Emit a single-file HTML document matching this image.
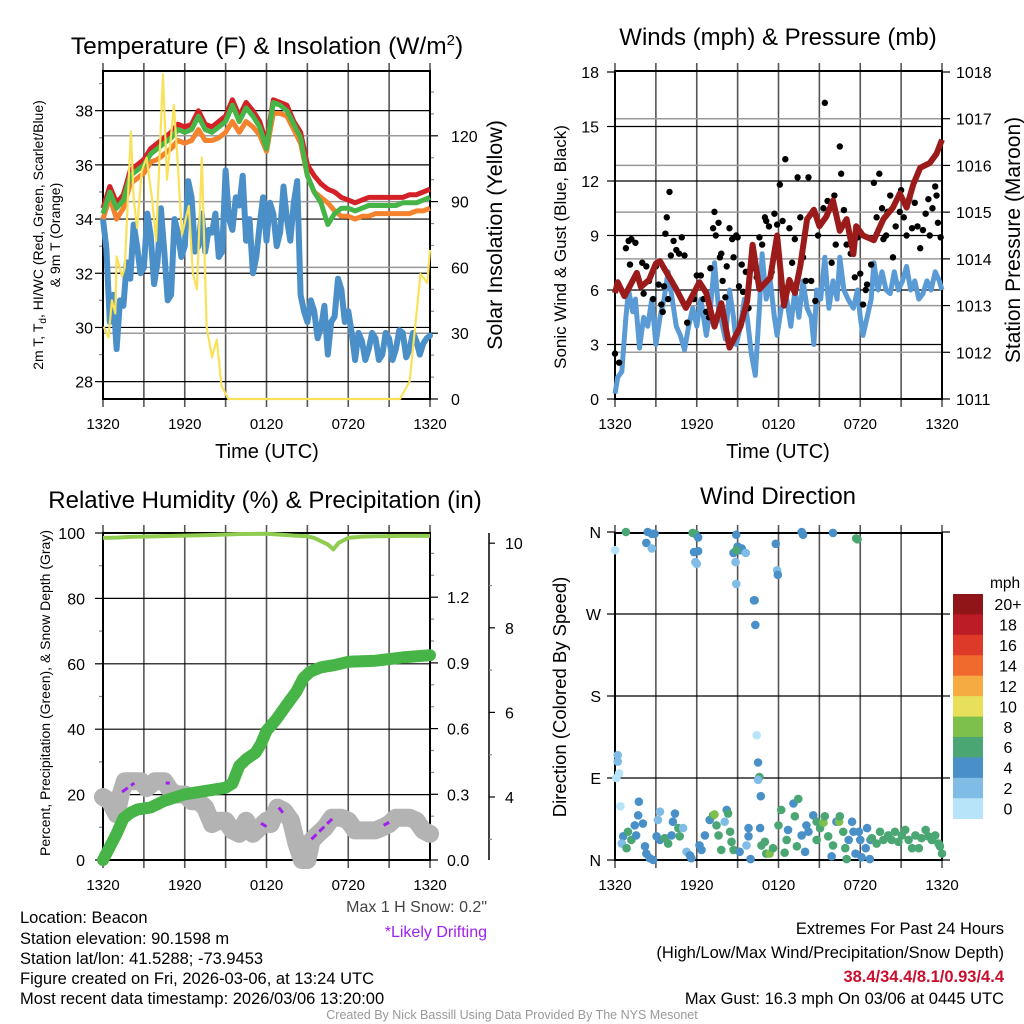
<!DOCTYPE html>
<html><head><meta charset="utf-8"><title>Beacon Mesonet Meteogram</title>
<style>
html,body{margin:0;padding:0;background:#fff;}
svg{display:block;font-family:"Liberation Sans",Arial,sans-serif;}
</style></head>
<body>
<svg id="chart" width="1024" height="1024" viewBox="0 0 1024 1024" xmlns="http://www.w3.org/2000/svg">
<rect width="1024" height="1024" fill="#fff"/>
<g id="layer"></g>
<!-- titles -->
<text x="267" y="54" font-size="24.5" text-anchor="middle">Temperature (F) &amp; Insolation (W/m<tspan dy="-9" font-size="15">2</tspan><tspan dy="9">)</tspan></text>
<text x="778" y="45" font-size="24" text-anchor="middle">Winds (mph) &amp; Pressure (mb)</text>
<text x="265" y="508" font-size="24" text-anchor="middle">Relative Humidity (%) &amp; Precipitation (in)</text>
<text x="778" y="504" font-size="24" text-anchor="middle">Wind Direction</text>
<!-- axis titles -->
<text transform="translate(43,235) rotate(-90)" font-size="14" text-anchor="middle">2m T, T<tspan dy="3" font-size="10">d</tspan><tspan dy="-3">, HI/WC (Red, Green, Scarlet/Blue)</tspan></text>
<text transform="translate(60,235) rotate(-90)" font-size="14" text-anchor="middle">&amp; 9m T (Orange)</text>
<text transform="translate(502,235) rotate(-90)" font-size="21.5" text-anchor="middle">Solar Insolation (Yellow)</text>
<text transform="translate(566,247) rotate(-90)" font-size="17" text-anchor="middle">Sonic Wind &amp; Gust (Blue, Black)</text>
<text transform="translate(1020,240) rotate(-90)" font-size="21" text-anchor="middle">Station Pressure (Maroon)</text>
<text transform="translate(50,693) rotate(-90)" font-size="14" text-anchor="middle">Percent, Precipitation (Green), &amp; Snow Depth (Gray)</text>
<text transform="translate(566,697) rotate(-90)" font-size="18.5" text-anchor="middle">Direction (Colored By Speed)</text>
<text x="267" y="458" font-size="20" text-anchor="middle">Time (UTC)</text>
<text x="778" y="458" font-size="20" text-anchor="middle">Time (UTC)</text>
<!-- footer text -->
<g font-size="16.5">
<text x="20" y="923">Location: Beacon</text>
<text x="20" y="944">Station elevation: 90.1598 m</text>
<text x="20" y="964">Station lat/lon: 41.5288; -73.9453</text>
<text x="20" y="984">Figure created on Fri, 2026-03-06, at 13:24 UTC</text>
<text x="20" y="1004">Most recent data timestamp: 2026/03/06 13:20:00</text>
</g>
<text x="487" y="912" font-size="16" fill="#444" text-anchor="end">Max 1 H Snow: 0.2"</text>
<text x="487" y="937" font-size="16" fill="#a020f0" text-anchor="end">*Likely Drifting</text>
<text x="1004" y="934" font-size="16.5" text-anchor="end">Extremes For Past 24 Hours</text>
<text x="1004" y="958" font-size="16.5" text-anchor="end">(High/Low/Max Wind/Precipitation/Snow Depth)</text>
<text x="1004" y="982" font-size="16.5" font-weight="bold" fill="#c8102e" text-anchor="end">38.4/34.4/8.1/0.93/4.4</text>
<text x="1004" y="1004" font-size="16.5" text-anchor="end">Max Gust: 16.3 mph On 03/06 at 0445 UTC</text>
<text x="512" y="1019" font-size="12.5" fill="#999" text-anchor="middle">Created By Nick Bassill Using Data Provided By The NYS Mesonet</text>
</svg>
<script>
// ---------- DATA ----------
const xTickLabels = ["1320","1920","0120","0720","1320"];
const tempTicks = [28,30,32,34,36,38];
const insTicks = [0,30,60,90,120];
const windTicks = [0,3,6,9,12,15,18];
const presTicks = [1011,1012,1013,1014,1015,1016,1017,1018];
const rhTicks = [0,20,40,60,80,100];
const precipTicks = [0.0,0.3,0.6,0.9,1.2];
const snowTicks = [4,6,8,10];
const dirTicks = [0,90,180,270,360];
const dirLabels = ["N","E","S","W","N"];
const speedBinLabels = ["0","2","4","6","8","10","12","14","16","18","20+"];
const speedBinColors = ["#b8e4f9","#80bde6","#4a90c8","#4aa672","#7dc04b","#e8e05a","#f6ab42","#f06a2e","#de3a2a","#bb1c26","#8f1519"];

const tempHours = [0,0.5,1,1.5,2,2.5,3,3.5,4,4.5,5,5.5,6,6.5,7,7.5,8,8.5,9,9.5,10,10.5,11,11.5,12,12.5,13,13.5,14,14.5,15,15.5,16,16.5,17,17.5,18,18.5,19,19.5,20,20.5,21,21.5,22,22.5,23,23.5,24];
const tempRed = [34.4,35.2,34.6,34.9,35.8,36.0,36.2,36.6,36.8,37.0,37.2,37.5,37.4,37.5,38.0,37.5,37.4,37.6,37.8,38.4,37.8,38.3,38.0,37.6,36.8,38.4,38.3,38.2,37.6,37.2,36.0,35.6,35.3,35.1,35.0,34.8,34.7,34.6,34.7,34.8,34.8,34.8,34.8,34.8,34.8,34.9,34.9,35.0,35.1];
const tempGreen = [34.2,35.0,34.4,34.7,35.6,35.8,36.0,36.4,36.6,36.8,37.0,37.3,37.2,37.3,37.8,37.3,37.2,37.4,37.6,38.2,37.6,38.1,37.8,37.4,36.6,38.3,38.2,38.0,37.5,37.0,35.6,35.0,34.6,33.8,34.2,34.4,34.4,34.3,34.4,34.5,34.5,34.5,34.5,34.5,34.6,34.6,34.6,34.7,34.8];
const tempOrange = [34.0,34.8,34.0,34.4,35.3,35.5,35.7,36.1,36.2,36.4,36.6,36.9,36.8,36.9,37.3,36.9,36.9,37.0,37.2,37.6,37.2,37.6,37.4,37.1,36.5,37.9,37.9,37.8,37.3,36.8,35.6,35.0,34.8,34.6,34.3,34.1,34.1,34.0,34.1,34.1,34.2,34.2,34.2,34.2,34.2,34.2,34.3,34.3,34.4];
const dewHours = [0,0.25,0.5,0.75,1,1.25,1.5,1.75,2,2.25,2.5,2.75,3,3.25,3.5,3.75,4,4.25,4.5,4.75,5,5.25,5.5,5.75,6,6.25,6.5,6.75,7,7.25,7.5,7.75,8,8.25,8.5,8.75,9,9.25,9.5,9.75,10,10.25,10.5,10.75,11,11.25,11.5,11.75,12,12.25,12.5,12.75,13,13.25,13.5,13.75,14,14.25,14.5,14.75,15,15.25,15.5,15.75,16,16.25,16.5,16.75,17,17.25,17.5,17.75,18,18.25,18.5,18.75,19,19.25,19.5,19.75,20,20.25,20.5,20.75,21,21.25,21.5,21.75,22,22.25,22.5,22.75,23,23.25,23.5,23.75,24];
const dewBlue = [34.0,32.9,30.2,31.2,29.2,31.0,30.8,32.4,31.8,33.8,33.0,32.0,32.2,34.2,33.4,31.6,32.4,34.4,32.8,31.0,31.2,34.0,33.5,32.6,33.0,35.4,34.8,32.8,33.0,34.2,32.8,33.6,33.5,34.2,32.6,32.8,35.8,34.0,33.6,34.8,34.5,35.6,33.2,34.0,32.0,32.6,33.8,34.8,33.2,34.6,34.2,33.0,33.5,35.2,34.0,33.2,34.6,35.4,31.2,30.6,30.2,31.0,30.6,29.6,30.0,30.8,29.0,30.2,30.4,31.8,31.4,30.2,30.6,29.8,28.8,29.8,29.5,28.8,29.2,29.8,29.6,28.8,29.0,29.8,29.6,28.8,29.2,29.9,29.8,28.9,29.2,29.8,29.5,29.0,29.4,29.6,29.7];
const insHours = [0.05,0.4,0.65,0.9,1.0,1.4,1.6,2.05,2.25,2.5,2.85,3.2,3.6,3.9,4.4,4.7,5.2,5.5,5.8,6.3,6.6,6.9,7.25,7.6,8.0,8.35,8.7,9.2,21.8,22.5,23.3,23.8,24];
const insValues = [33,28,45,39,65,56,60,122,91,78,104,110,91,72,148,100,134,106,75,88,57,50,110,33,19,27,6,0,0,8,57,53,68];

const windHours = [0,0.2,0.5,0.8,1.0,1.3,1.5,1.8,2.1,2.4,2.7,3.0,3.3,3.6,3.9,4.2,4.5,4.8,5.1,5.4,5.7,6.0,6.3,6.7,7.0,7.3,7.6,7.9,8.1,8.4,8.7,8.9,9.2,9.5,9.7,10.0,10.3,10.6,10.8,11.1,11.4,11.7,11.9,12.2,12.6,12.9,13.2,13.5,13.8,14.1,14.4,14.6,14.8,15.1,15.4,15.7,16.0,16.3,16.5,16.8,17.1,17.5,17.8,18.0,18.2,18.5,18.8,19.0,19.3,19.6,19.9,20.2,20.5,20.8,21.1,21.4,21.7,22.0,22.3,22.6,22.9,23.2,23.5,23.8,24.0];
const windSpeed = [0.3,1.2,1.5,4.5,6.0,4.8,5.5,2.8,4.5,4.0,5.5,3.0,4.5,5.5,7.0,5.5,4.0,3.5,2.7,4.0,5.0,4.0,5.5,3.5,5.0,7.5,5.0,4.0,3.3,6.0,4.5,3.0,4.0,5.5,4.5,2.5,1.3,5.0,8.0,5.5,6.5,4.5,3.5,5.0,5.5,4.0,6.0,4.5,6.5,5.0,4.5,3.0,6.0,5.5,7.8,5.0,6.5,5.5,7.8,6.0,5.5,5.0,6.0,4.5,3.5,4.5,5.5,7.5,6.0,7.0,6.0,5.8,7.0,6.0,6.5,7.3,6.0,6.5,5.5,5.8,6.5,6.0,7.0,6.5,6.0];
const presHours = [0,0.2,0.7,1.6,1.9,2.5,3.0,3.3,3.8,4.5,5.2,6.2,6.7,7.3,7.8,8.4,9.2,9.7,10.1,10.6,11.4,11.9,12.4,12.8,13.2,13.6,14.1,14.6,15.0,15.5,16.0,16.5,17.0,17.5,17.7,18.2,19.0,19.7,20.4,20.9,21.4,21.9,22.4,23.1,23.6,24.0];
const presValues = [1013.27,1013.5,1013.2,1013.7,1013.4,1013.55,1013.9,1013.95,1013.7,1013.35,1012.95,1013.5,1013.27,1012.55,1013.05,1012.1,1012.55,1013.1,1014.3,1013.35,1013.6,1014.5,1013.0,1013.55,1013.27,1013.85,1014.85,1015.05,1014.7,1014.9,1015.25,1014.6,1014.85,1014.1,1014.7,1014.5,1014.4,1014.85,1015.1,1015.4,1015.1,1015.6,1015.95,1016.05,1016.25,1016.55];
const gustHours = [0,0.3,0.8,1.0,1.2,1.5,1.1,2.0,2.3,2.1,2.8,2.5,3.0,3.2,3.4,3.5,3.6,3.9,3.7,3.8,4.0,4.1,4.3,4.5,4.7,4.9,5.1,5.3,5.8,6.0,6.3,6.5,6.7,6.9,7.0,7.2,7.3,7.4,7.6,7.7,7.8,7.9,8.1,8.2,8.4,8.6,8.7,8.9,9.0,9.1,9.3,9.4,9.6,9.8,10.1,10.4,10.6,10.8,11.0,11.1,11.3,11.5,11.7,11.9,12.1,12.3,12.5,12.8,13.0,13.2,13.4,13.6,13.8,14.0,14.2,14.4,14.7,14.9,15.3,15.4,15.6,15.9,16.1,16.2,16.5,16.6,16.8,17.0,17.3,17.6,17.8,18.0,18.2,18.4,18.5,18.8,19.0,19.2,19.4,19.6,19.7,19.9,20.0,20.2,20.4,20.6,20.9,21.0,21.2,21.4,21.6,21.8,22.0,22.2,22.4,22.6,22.8,23.0,23.1,23.3,23.5,23.6,23.7,23.9];
const gustValues = [2.5,2.0,8.3,8.7,8.8,8.6,7.4,7.5,7.3,5.8,5.5,6.5,7.3,6.3,5.2,4.8,6.2,5.5,9.1,10.0,11.4,7.9,8.7,8.2,8.0,8.9,7.9,4.2,5.5,6.8,6.8,5.5,4.8,4.5,7.2,9.4,10.3,9.0,9.7,7.8,8.0,6.5,5.6,7.3,9.4,8.8,7.8,9.0,8.9,6.2,7.4,5.9,7.0,5.0,7.2,6.7,8.9,8.5,10.0,9.8,9.5,7.0,10.2,9.6,11.8,9.8,13.2,9.4,7.5,8.8,12.2,10.0,7.8,6.5,12.2,6.5,5.4,9.0,10.5,16.3,10.9,7.5,11.2,8.5,13.9,12.4,10.4,8.5,8.0,6.7,8.9,6.9,5.2,6.0,6.3,7.4,11.9,10.0,12.4,10.5,8.8,9.0,10.3,11.2,7.8,9.5,10.3,11.5,10.0,9.0,11.0,9.4,10.8,9.5,8.3,9.3,10.2,11.0,9.0,10.5,11.7,11.2,9.7,8.9];

const rhHours = [0,1,2,4,6,8,10,12,13,14,15,15.5,16,16.5,16.9,17.3,18,19,20,22,24];
const rhValues = [98.5,98.6,98.8,99.0,99.2,99.4,99.7,99.8,99.5,99.2,99.0,98.5,97.5,96.5,95.0,97.0,98.5,98.9,99.0,99.1,99.1];
const precipHours = [0,0.5,1.0,1.5,2.0,2.5,3.5,4.0,4.5,5.0,6.0,7.0,8.0,9.0,9.5,10.0,10.5,11.2,11.6,12.0,12.7,13.5,14.2,14.7,15.2,16.0,17.0,18.0,20.0,22.0,24.0];
const precipValues = [0,0.06,0.12,0.19,0.215,0.23,0.24,0.255,0.27,0.28,0.30,0.31,0.32,0.33,0.35,0.43,0.46,0.49,0.53,0.59,0.64,0.71,0.77,0.83,0.86,0.88,0.89,0.905,0.91,0.925,0.935];
const snowHours = [0,0.5,1.0,1.3,1.6,2.0,2.8,3.2,3.8,4.5,5.0,5.5,6.0,6.5,7.0,7.5,8.0,8.5,9.0,9.5,10.0,10.5,11.0,11.5,12.0,12.3,12.8,13.3,13.8,14.2,14.6,15.0,15.3,15.8,16.3,16.8,17.5,18.0,18.5,19.0,20.0,20.5,21.0,21.5,22.5,23.0,23.5,24];
const snowDepth = [4.00,3.90,3.59,4.06,4.37,4.37,4.37,4.21,4.37,4.37,4.13,4.06,4.06,3.90,3.90,3.75,3.36,3.44,3.44,3.21,3.13,3.44,3.13,3.28,3.44,3.36,3.75,3.67,3.44,2.90,2.51,2.51,2.97,3.13,3.28,3.51,3.51,3.44,3.21,3.21,3.21,3.28,3.36,3.51,3.51,3.44,3.21,3.13];
const driftStart = [1.4,4.6,11.6,12.9,15.3,20.6];
const driftEnd = [2.3,4.9,12.0,13.2,16.9,21.0];
const driftFrom = [4.12,4.33,3.38,3.75,3.00,3.33];
const driftTo = [4.33,4.33,3.30,3.63,3.51,3.40];

const dirHours = [0.0,0.8,2.4,2.3,2.7,2.7,2.9,5.7,5.9,6.1,5.8,6.1,5.9,6.0,8.9,8.7,9.0,9.3,9.2,9.6,8.9,8.85,8.9,10.25,10.2,10.3,11.8,11.9,11.95,13.7,13.8,16.0,17.7,17.8,10.4,10.5,10.6,10.5,10.7,0.2,0.2,0.3,0.1,0.4,
0.6,0.95,0.5,0.85,1.2,1.45,1.55,1.75,1.7,2.05,2.2,2.3,2.55,2.8,3.05,3.3,3.15,3.3,3.65,3.9,4.15,4.25,4.4,4.65,4.75,5.0,5.25,5.5,5.6,6.2,6.35,6.6,6.95,7.2,7.3,7.45,7.6,7.8,8.05,8.2,8.3,8.45,8.55,8.7,9.15,9.65,9.8,9.8,9.95,10.65,10.75,11.0,11.1,11.35,11.6,12.0,12.2,12.45,12.6,12.7,13.1,13.2,13.45,13.35,13.7,13.95,14.05,14.2,14.55,14.8,14.8,15.05,15.3,15.4,15.65,15.9,16.0,16.25,16.45,16.5,16.75,16.9,17.0,17.15,17.4,17.5,17.65,17.9,18.0,18.1,18.4,18.5,18.7,18.75,18.85,19.2,19.45,19.7,20.05,20.3,20.55,20.8,21.05,21.3,21.55,21.8,22.05,22.3,22.5,22.8,23.0,23.25,23.5,23.75,24.0,23.85];
const dirDegrees = [340,360,360,348,358,342,358,359,358,354,338,339,327,325,357,337,344,342,340,337,340,327,303,285,285,258,347,318,313,360,357,359,353,352,137,107,91,88,70,115,108,95,90,59,
26,31,18,13,22,38,27,64,49,40,15,7,2,0,26,53,44,22,24,18,27,42,51,35,26,35,9,5,2,16,11,27,44,49,50,38,27,11,42,55,51,31,20,11,9,16,26,35,1,35,16,20,7,7,13,38,55,8,22,33,62,48,67,15,27,9,38,31,49,42,22,35,41,48,26,4,16,42,42,48,31,13,1,22,42,31,7,31,22,3,13,35,1,22,24,18,31,22,27,22,31,20,27,33,22,13,27,13,24,33,26,22,27,18,7,15];
const dirSpeeds = [1,7,4,4,4,3,4,6,6,4,4,4,3,3,4,4,4,4,5,3,6,3,2,4,4,4,4,3,4,4,4,4,6,6,1,4,6,3,4,3,2,1,1,1,
4,6,2,6,6,4,4,4,4,4,4,4,4,4,4,2,3,4,6,6,4,4,4,6,6,3,3,4,4,4,4,4,4,6,8,6,6,6,3,4,6,6,6,6,4,3,4,4,4,4,6,6,6,8,6,6,6,6,6,4,4,6,6,6,4,4,4,4,4,6,6,6,8,6,6,4,6,4,8,6,6,6,6,4,4,4,4,4,4,4,4,4,4,4,6,6,6,6,6,6,6,6,6,6,6,6,6,6,6,6,6,6,6,6,6,6,6,6,6];

// ---------- AXES ----------
const L = {x0:103, x1:430}, R = {x0:615, x1:942};
const xL = h => L.x0 + h*(L.x1-L.x0)/24;
const xR = h => R.x0 + h*(R.x1-R.x0)/24;
const yTemp = v => 399 - (v-27.36)*27.1;
const yIns = v => 399 - v*65.8/30;
const yWind = v => 399 - v*327/18;
const yPres = p => 399 - (p-1011)*327/7;
const yRH = p => 860 - p*3.27;
const yPrecip = v => 860 - v*65.7/0.3;
const ySnow = s => 797 - (s-4)*42.3;
const yDir = d => 860 - d*328/360;

const NS = "http://www.w3.org/2000/svg";
const layer = document.getElementById('layer');
function el(tag, attrs, parent){
  const e = document.createElementNS(NS, tag);
  for (const k in attrs) e.setAttribute(k, attrs[k]);
  (parent||layer).appendChild(e);
  return e;
}
function pathFrom(xs, ys, fx, fy){
  return xs.map((h,i)=>(i?'L':'M')+fx(h).toFixed(1)+','+fy(ys[i]).toFixed(1)).join(' ');
}

function frame(P, yTop, yBot, name){
  const g = el('g',{});
  
  
  for (let i=0;i<=8;i++){
    const x = P.x0 + i*(P.x1-P.x0)/8;
    const ln = el('line',{x1:x,y1:yTop-8,x2:x,y2:yBot+8,stroke:'#555','stroke-width':1.6},g);
    
    
  }
  xTickLabels.forEach((t,i)=>{
    const x = P.x0 + i*(P.x1-P.x0)/4;
    const tx = el('text',{x:x,y:yBot+30,'font-size':15,'text-anchor':'middle'},g);
    tx.textContent = t;
    
    
  });
  return g;
}
function hgrid(g, P, vals, fy, color, w){
  vals.forEach(v=>{
    const ln = el('line',{x1:P.x0,y1:fy(v),x2:P.x1,y2:fy(v),stroke:color,'stroke-width':w},g);
    
    
  });
}
function yLabels(g, vals, fy, x, anchor, size, fmt, name){
  vals.forEach(v=>{
    const t = el('text',{x:x,y:fy(v)+6,'font-size':size,'text-anchor':anchor},g);
    t.textContent = fmt? fmt(v) : v;
    
    
  });
}
function ticks(g, x, vals, fy, len, color){
  vals.forEach(v=>{
    el('line',{x1:x,y1:fy(v),x2:x+len,y2:fy(v),stroke:color||'#000','stroke-width':1.2},g);
  });
}
function box(g,P,yTop,yBot){
  const r = el('rect',{x:P.x0,y:yTop,width:P.x1-P.x0,height:yBot-yTop,fill:'none',stroke:'#000','stroke-width':2},g);
  
  
}

// ===== Panel 1: Temperature =====
{
  const g = frame(L,71,399,'temperature');
  hgrid(g,L,insTicks.slice(1),yIns,'#999',1.5);
  hgrid(g,L,tempTicks,yTemp,'#000',1.2);
  ticks(g,L.x0,tempTicks,yTemp,-8);
  ticks(g,L.x0,[29,31,33,35,37,39],yTemp,-4,'#888');
  ticks(g,L.x1,insTicks,yIns,8);
  ticks(g,L.x1,[10,20,40,50,70,80,100,110,130,140],yIns,4,'#888');
  yLabels(g,tempTicks,yTemp,L.x0-10,'end',16,null,'temperature-tick-label');
  yLabels(g,insTicks,yIns,L.x1+21,'start',16,null,'insolation-tick-label');
  const s1 = el('path',{d:pathFrom(dewHours,dewBlue,xL,yTemp),fill:'none',stroke:'#4a8fc8','stroke-width':6,'stroke-linejoin':'round','stroke-linecap':'round'});
  
  
  const s2 = el('path',{d:pathFrom(tempHours,tempRed,xL,yTemp),fill:'none',stroke:'#d42027','stroke-width':5,'stroke-linejoin':'round'});
  
  
  const s3 = el('path',{d:pathFrom(tempHours,tempOrange,xL,yTemp),fill:'none',stroke:'#f5822e','stroke-width':5,'stroke-linejoin':'round'});
  
  
  const s4 = el('path',{d:pathFrom(tempHours,tempGreen,xL,yTemp),fill:'none',stroke:'#46b446','stroke-width':5,'stroke-linejoin':'round'});
  
  
  const s5 = el('path',{d:pathFrom(insHours,insValues,xL,yIns),fill:'none',stroke:'#f9e25a','stroke-width':2.2,'stroke-linejoin':'round'});
  
  
  box(g,L,71,399);
}

// ===== Panel 2: Winds =====
{
  const g = frame(R,71,399,'winds');
  hgrid(g,R,presTicks.slice(1,-1),yPres,'#999',1.5);
  hgrid(g,R,windTicks.slice(1,-1),yWind,'#000',1.2);
  ticks(g,R.x0,windTicks,yWind,-8);
  ticks(g,R.x1,presTicks,yPres,8);
  yLabels(g,windTicks,yWind,R.x0-16,'end',16,null,'wind-tick-label');
  yLabels(g,presTicks,yPres,R.x1+14,'start',16,null,'pressure-tick-label');
  const w = el('path',{d:pathFrom(windHours,windSpeed,xR,yWind),fill:'none',stroke:'#5b9bd5','stroke-width':5,'stroke-linejoin':'round'});
  
  
  gustHours.forEach((h,i)=>{
    const c = el('circle',{cx:xR(h),cy:yWind(gustValues[i]),r:3.2,fill:'#000'});
    
    
  });
  const p = el('path',{d:pathFrom(presHours,presValues,xR,yPres),fill:'none',stroke:'#9b1b1b','stroke-width':6,'stroke-linejoin':'round'});
  
  
  box(g,R,71,399);
}

// ===== Panel 3: Humidity & Precip =====
{
  const g = frame(L,533,860,'humidity');
  hgrid(g,L,rhTicks.slice(1,-1),yRH,'#000',1.2);
  ticks(g,L.x0,rhTicks,yRH,-8);
  ticks(g,L.x0,[10,30,50,70,90],yRH,-4,'#888');
  ticks(g,L.x1,precipTicks,yPrecip,8);
  ticks(g,L.x1,[0.1,0.2,0.4,0.5,0.7,0.8,1.0,1.1,1.3,1.4],yPrecip,4,'#888');
  yLabels(g,rhTicks,yRH,L.x0-18,'end',16,null,'percent-tick-label');
  yLabels(g,precipTicks,yPrecip,L.x1+17,'start',16,v=>v.toFixed(1),'precip-tick-label');
  const ax = el('line',{x1:489,y1:533,x2:489,y2:860,stroke:'#000','stroke-width':1.5},g);
  
  
  ticks(g,489,snowTicks,ySnow,6);
  ticks(g,489,[3,5,7,9],ySnow,3,'#888');
  yLabels(g,snowTicks,ySnow,505,'start',16,null,'snow-depth-tick-label');
  const sn = el('path',{d:pathFrom(snowHours,snowDepth,xL,ySnow),fill:'none',stroke:'#b3b3b3','stroke-width':18,'stroke-linejoin':'round','stroke-linecap':'round'});
  
  
  driftStart.forEach((h,i)=>{
    const d = el('line',{x1:xL(h),y1:ySnow(driftFrom[i]),x2:xL(driftEnd[i]),y2:ySnow(driftTo[i]),stroke:'#a020f0','stroke-width':3,'stroke-dasharray':'7 4'});
    
    
  });
  const pr = el('path',{d:pathFrom(precipHours,precipValues,xL,yPrecip),fill:'none',stroke:'#46b446','stroke-width':12,'stroke-linejoin':'round','stroke-linecap':'round'});
  
  
  const rh = el('path',{d:pathFrom(rhHours,rhValues,xL,yRH),fill:'none',stroke:'#8fcc50','stroke-width':4,'stroke-linejoin':'round'});
  
  
  box(g,L,533,860);
}

// ===== Panel 4: Wind direction =====
{
  const g = frame(R,533,860,'wind-direction');
  hgrid(g,R,dirTicks.slice(1,-1),yDir,'#000',1.2);
  ticks(g,R.x0,dirTicks,yDir,-8);
  ticks(g,R.x1,dirTicks,yDir,8);
  dirTicks.forEach((d,i)=>{
    const t = el('text',{x:R.x0-14,y:yDir(d)+6,'font-size':16,'text-anchor':'end'},g);
    t.textContent = dirLabels[i];
    
    
  });
  dirHours.forEach((h,i)=>{
    if (dirDegrees[i]===undefined) return;
    const sp = dirSpeeds[i]===undefined ? 6 : dirSpeeds[i];
    const bin = Math.min(10, Math.floor(sp/2));
    const c = el('circle',{cx:xR(h),cy:yDir(dirDegrees[i]),r:4.3,fill:speedBinColors[bin]});
    
    
  });
  box(g,R,533,860);
  const cb = el('g',{});
  
  
  const unit = el('text',{x:990,y:588,'font-size':15.5},cb);
  unit.textContent='mph';
  
  
  const top=594, h=(818.7-594)/11;
  speedBinLabels.forEach((lab,i)=>{
    const k = 10-i;
    const y = top + i*h;
    const r = el('rect',{x:953,y:y,width:30,height:h+0.3,fill:speedBinColors[k]},cb);
    
    
    const t = el('text',{x:1008,y:y+h/2+6,'font-size':16,'text-anchor':'middle'},cb);
    t.textContent = speedBinLabels[k];
    
    
  });
}
</script>
</body></html>
